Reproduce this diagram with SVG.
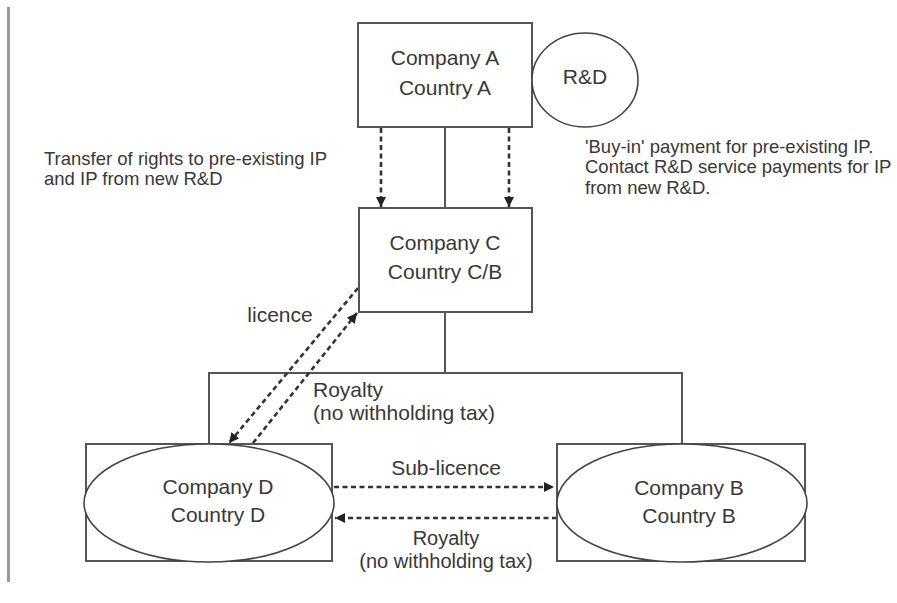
<svg xmlns="http://www.w3.org/2000/svg" width="897" height="603" viewBox="0 0 897 603">
<style>
.box{fill:#fff;stroke:#555;stroke-width:2}
.ell{fill:#fff;stroke:#444;stroke-width:1.6}
.solid{fill:none;stroke:#555;stroke-width:2}
.dash{fill:none;stroke:#333;stroke-width:2.6;stroke-dasharray:5 3.5}
.t{font-family:"Liberation Sans",Arial,sans-serif;font-size:21px;fill:#383838;text-anchor:middle}
.a{font-family:"Liberation Sans",Arial,sans-serif;font-size:18.5px;fill:#383838}
.s{text-anchor:start}
</style>
<defs>
<marker id="ah" markerWidth="10" markerHeight="10" viewBox="0 0 10 10" refX="10" refY="5" orient="auto" markerUnits="userSpaceOnUse">
<path d="M0,0 L10,5 L0,10 Z" fill="#222"/>
</marker>
</defs>
<rect x="7" y="7" width="3" height="575" fill="#999"/>
<g id="connectors">
<line class="solid" x1="445" y1="127" x2="445" y2="208"/>
<line class="solid" x1="445" y1="312" x2="445" y2="373"/>
<path class="solid" d="M209,444 V373 H682 V444"/>
<line class="dash" x1="381" y1="128" x2="381" y2="207" marker-end="url(#ah)"/>
<line class="dash" x1="509" y1="128" x2="509" y2="207" marker-end="url(#ah)"/>
<line class="dash" x1="358" y1="288" x2="229" y2="443" marker-end="url(#ah)"/>
<line class="dash" x1="253" y1="443" x2="357" y2="313" marker-end="url(#ah)"/>
<line class="dash" x1="334" y1="487" x2="554" y2="487" marker-end="url(#ah)"/>
<line class="dash" x1="557" y1="518" x2="335" y2="518" marker-end="url(#ah)"/>
</g>
<g id="companyA">
<rect class="box" x="358" y="23" width="174" height="104"/>
<text class="t" x="445" y="65">Company A</text>
<text class="t" x="445" y="95">Country A</text>
</g>
<g id="rd">
<ellipse class="ell" cx="585" cy="80" rx="53" ry="47"/>
<text class="t" x="585" y="84">R&amp;D</text>
</g>
<g id="companyC">
<rect class="box" x="359" y="208" width="173" height="104"/>
<text class="t" x="445" y="250">Company C</text>
<text class="t" x="445" y="279">Country C/B</text>
</g>
<g id="companyD">
<rect class="box" x="86" y="444" width="246" height="117"/>
<ellipse class="ell" cx="209" cy="503" rx="125" ry="59"/>
<text class="t" x="218" y="494">Company D</text>
<text class="t" x="218" y="522">Country D</text>
</g>
<g id="companyB">
<rect class="box" x="557" y="444" width="248" height="117"/>
<ellipse class="ell" cx="682" cy="503" rx="125" ry="59"/>
<text class="t" x="689" y="495">Company B</text>
<text class="t" x="689" y="523">Country B</text>
</g>
<g id="labels">
<text class="a" x="44" y="165">Transfer of rights to pre-existing IP</text>
<text class="a" x="44" y="185">and IP from new R&amp;D</text>
<text class="a" x="585" y="153">'Buy-in' payment for pre-existing IP.</text>
<text class="a" x="585" y="173">Contact R&amp;D service payments for IP</text>
<text class="a" x="585" y="194">from new R&amp;D.</text>
<text class="t" x="280" y="322">licence</text>
<text class="t s" x="313" y="397">Royalty</text>
<text class="t s" x="313" y="420">(no withholding tax)</text>
<text class="t" x="446" y="475">Sub-licence</text>
<text class="t" x="446" y="545" style="font-size:20px">Royalty</text>
<text class="t" x="446" y="568" style="font-size:20px">(no withholding tax)</text>
</g>
</svg>
